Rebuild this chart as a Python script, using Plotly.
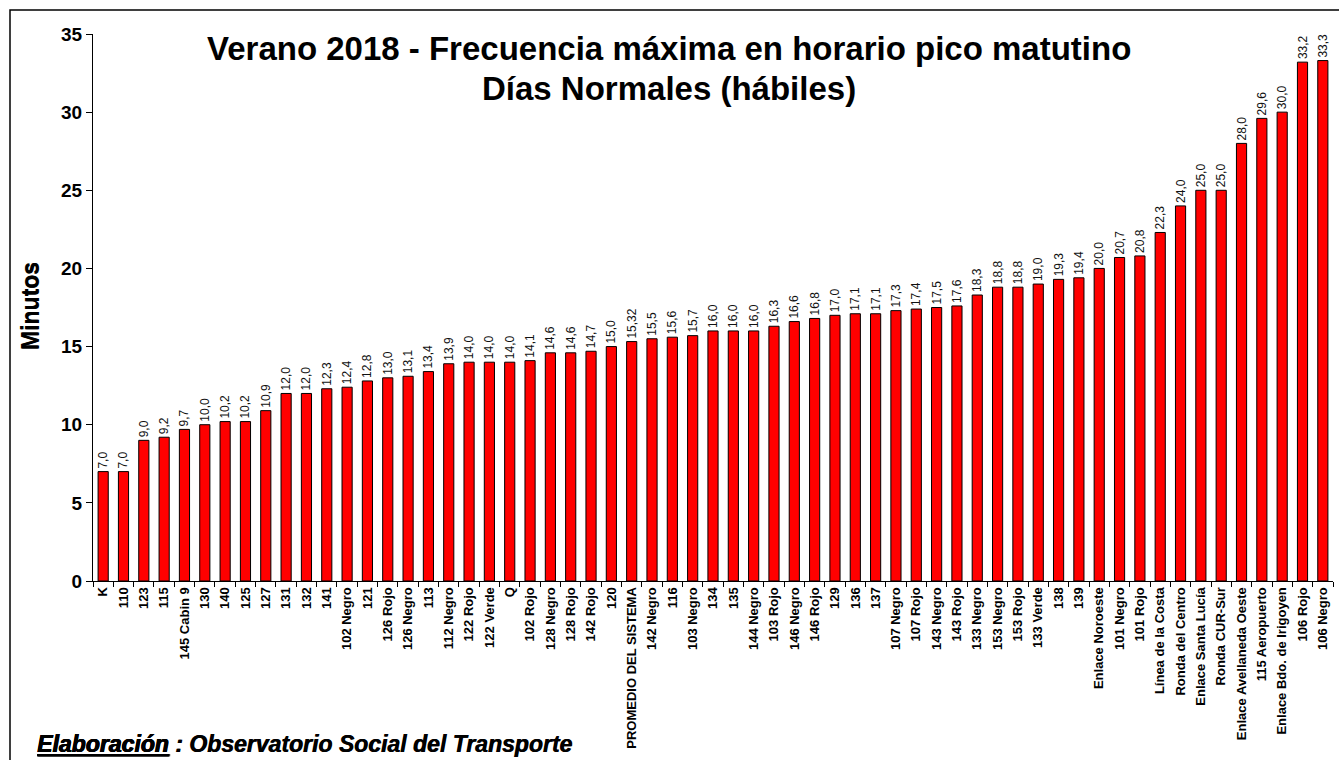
import plotly.graph_objects as go

categories = ["K", "110", "123", "115", "145 Cabin 9", "130", "140", "125", "127", "131",
              "132", "141", "102 Negro", "121", "126 Rojo", "126 Negro", "113", "112 Negro",
              "122 Rojo", "122 Verde", "Q", "102 Rojo", "128 Negro", "128 Rojo", "142 Rojo",
              "120", "PROMEDIO DEL SISTEMA", "142 Negro", "116", "103 Negro", "134", "135",
              "144 Negro", "103 Rojo", "146 Negro", "146 Rojo", "129", "136", "137",
              "107 Negro", "107 Rojo", "143 Negro", "143 Rojo", "133 Negro", "153 Negro",
              "153 Rojo", "133 Verde", "138", "139", "Enlace Noroeste", "101 Negro",
              "101 Rojo", "Línea de la Costa", "Ronda del Centro", "Enlace Santa Lucía",
              "Ronda CUR-Sur", "Enlace Avellaneda Oeste", "115 Aeropuerto",
              "Enlace Bdo. de Irigoyen", "106 Rojo", "106 Negro"]
values = [7.0, 7.0, 9.0, 9.2, 9.7, 10.0, 10.2, 10.2, 10.9, 12.0,
          12.0, 12.3, 12.4, 12.8, 13.0, 13.1, 13.4, 13.9,
          14.0, 14.0, 14.0, 14.1, 14.6, 14.6, 14.7,
          15.0, 15.32, 15.5, 15.6, 15.7, 16.0, 16.0,
          16.0, 16.3, 16.6, 16.8, 17.0, 17.1, 17.1,
          17.3, 17.4, 17.5, 17.6, 18.3, 18.8,
          18.8, 19.0, 19.3, 19.4, 20.0, 20.7,
          20.8, 22.3, 24.0, 25.0,
          25.0, 28.0, 29.6,
          30.0, 33.2, 33.3]
value_labels = ["7,0", "7,0", "9,0", "9,2", "9,7", "10,0", "10,2", "10,2", "10,9", "12,0",
                "12,0", "12,3", "12,4", "12,8", "13,0", "13,1", "13,4", "13,9",
                "14,0", "14,0", "14,0", "14,1", "14,6", "14,6", "14,7",
                "15,0", "15,32", "15,5", "15,6", "15,7", "16,0", "16,0",
                "16,0", "16,3", "16,6", "16,8", "17,0", "17,1", "17,1",
                "17,3", "17,4", "17,5", "17,6", "18,3", "18,8",
                "18,8", "19,0", "19,3", "19,4", "20,0", "20,7",
                "20,8", "22,3", "24,0", "25,0",
                "25,0", "28,0", "29,6",
                "30,0", "33,2", "33,3"]
y_ticks = [0, 5, 10, 15, 20, 25, 30, 35]

title_lines = ["Verano 2018 - Frecuencia máxima en horario pico matutino",
               "Días Normales (hábiles)"]
y_title = "Minutos"
footer = "<u>Elaboración</u> : Observatorio Social del Transporte"

FONT = "Liberation Sans, Arial, sans-serif"
THICK = "0.6px 0px 0px black"

fig = go.Figure()
fig.add_trace(go.Bar(
    x=categories, y=values, text=value_labels,
    textposition="outside", textangle=-90, constraintext="none",
    textfont=dict(family=FONT, size=12, color="#111111"),
    marker=dict(color="#ff0000", line=dict(color="black", width=1)),
    width=0.5, cliponaxis=False,
))

W, H = 1339, 760
ml, mr, mt, mb = 93, 6, 34, 179
pw = W - ml - mr
ph = H - mt - mb

def px_x(x):
    return (x - ml) / pw

def px_y(y):
    return (H - mb - y) / ph

fig.update_layout(
    width=W, height=H,
    margin=dict(l=ml, r=mr, t=mt, b=mb, autoexpand=False),
    plot_bgcolor="white", paper_bgcolor="white",
    showlegend=False,
    font=dict(family=FONT, color="black"),
    xaxis=dict(
        type="category", tickangle=-90, showgrid=False,
        showline=True, linecolor="black", linewidth=1,
        ticks="outside", tickson="boundaries", ticklen=5, tickcolor="black",
        tickfont=dict(family=FONT, size=13, color="black", weight="bold"),
        range=[-0.5, len(categories) - 0.5],
    ),
    yaxis=dict(
        range=[0, 35], tickvals=y_ticks, showgrid=False, zeroline=False,
        showline=True, linecolor="black", linewidth=1,
        ticks="outside", ticklen=6, tickcolor="black",
        tickfont=dict(family=FONT, size=19, color="black", weight="bold"),
    ),
    annotations=[
        dict(text="<b>" + title_lines[0] + "</b>", xref="paper", yref="paper",
             x=px_x(669), y=px_y(48), showarrow=False, xanchor="center", yanchor="middle",
             font=dict(family=FONT, size=33, color="black", weight="bold")),
        dict(text="<b>" + title_lines[1] + "</b>", xref="paper", yref="paper",
             x=px_x(669), y=px_y(88), showarrow=False, xanchor="center", yanchor="middle",
             font=dict(family=FONT, size=33, color="black", weight="bold")),
        dict(text="<b>" + y_title + "</b>", xref="paper", yref="paper", textangle=-90,
             x=px_x(30), y=px_y(306), showarrow=False, xanchor="center", yanchor="middle",
             font=dict(family=FONT, size=23, color="black", weight="bold", shadow="0px 0.6px 0px black")),
        dict(text="<b><i>" + footer + "</i></b>",
             xref="paper", yref="paper",
             x=px_x(35), y=px_y(744), showarrow=False, xanchor="left", yanchor="middle",
             font=dict(family=FONT, size=23, color="black", weight="bold", style="italic",
                       shadow=THICK)),
    ],
    shapes=[
        dict(type="rect", xref="paper", yref="paper",
             x0=px_x(10), x1=px_x(1350), y0=px_y(780), y1=px_y(10),
             line=dict(color="black", width=1.5), fillcolor="rgba(0,0,0,0)", layer="below"),
    ],
)

fig.write_html("out.html", config={"displayModeBar": False},
               post_script="document.body.style.margin='0px';document.body.style.overflow='hidden';")
